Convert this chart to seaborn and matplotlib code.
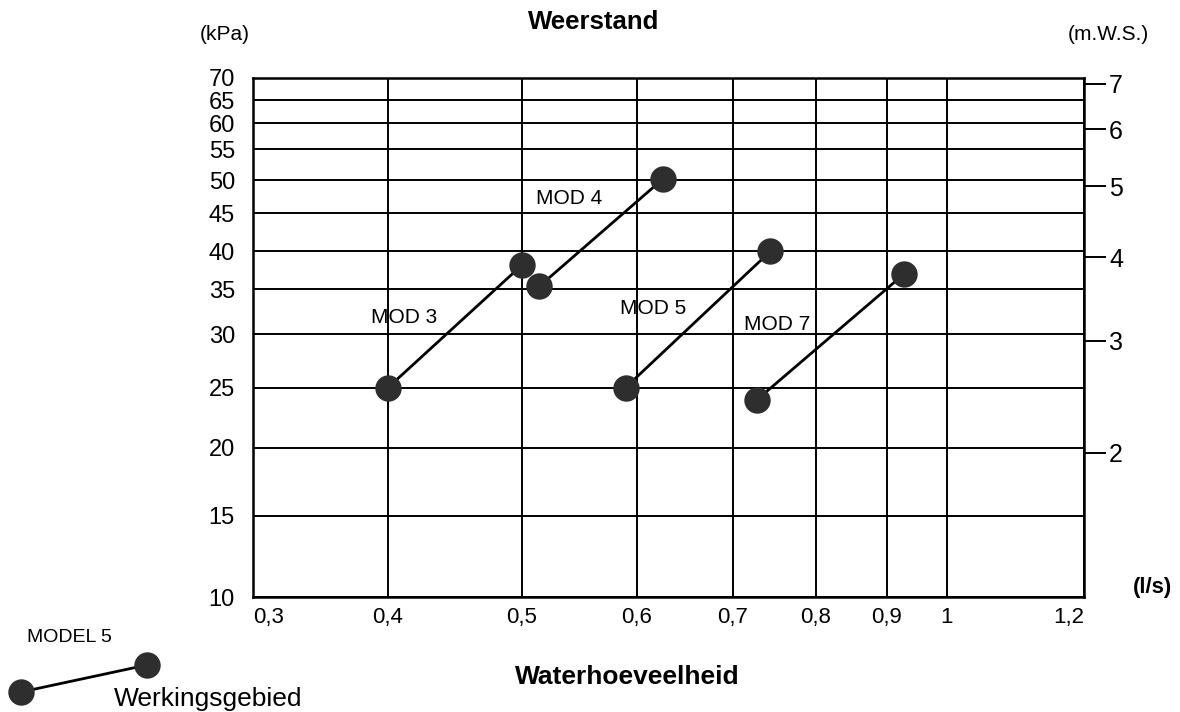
import matplotlib
matplotlib.use('Agg')
import matplotlib.pyplot as plt
from matplotlib.lines import Line2D
import numpy as np
import pandas as pd
import seaborn as sns

# werkingsgebied per model: begin- en eindpunt (l/s, kPa)
models = ['MOD 3', 'MOD 4', 'MOD 5', 'MOD 7']
flow_low = [0.40, 0.515, 0.59, 0.729]
flow_high = [0.50, 0.627, 0.745, 0.928]
kpa_low = [25.0, 35.4, 25.0, 24.0]
kpa_high = [38.2, 50.2, 40.0, 37.0]

x_ticks = [0.3, 0.4, 0.5, 0.6, 0.7, 0.8, 0.9, 1.0, 1.2]
x_labels = ['0,3', '0,4', '0,5', '0,6', '0,7', '0,8', '0,9', '1', '1,2']
y_ticks = [10, 15, 20, 25, 30, 35, 40, 45, 50, 55, 60, 65, 70]
mws_ticks = [2, 3, 4, 5, 6, 7]
KPA_PER_MWS = 9.81

# the printed nomogram is not evenly log spaced, so follow its grid spacing
x_grid_pos = [0, 135, 269, 384, 480, 563, 634, 694, 831]
y_grid_pos = [0, 81, 149, 209, 262, 307, 345, 383, 416, 447, 473, 496, 518]

# where the model names sit (data coords)
label_flow = [0.412, 0.541, 0.617, 0.753]
label_kpa = [31.9, 47.3, 32.9, 31.1]

df = pd.DataFrame({
    'model': models * 2,
    'flow': flow_low + flow_high,
    'kpa': kpa_low + kpa_high,
})

sns.set_theme(style='white')
plt.rcParams['font.family'] = ['Liberation Sans', 'DejaVu Sans']

def fwd(vals, pos):
    return lambda v: np.interp(v, vals, pos)

xs = (fwd(x_ticks, x_grid_pos), fwd(x_grid_pos, x_ticks))
ys = (fwd(y_ticks, y_grid_pos), fwd(y_grid_pos, y_ticks))

fig = plt.figure(figsize=(11.8, 7.12), dpi=100)
W, H = 1180, 712
ax = fig.add_axes([253 / W, 1 - 597 / H, (1084 - 253) / W, (597 - 78) / H])

ax.set_xscale('function', functions=xs)
ax.set_yscale('function', functions=ys)

dot = '#2e2e2e'
sns.lineplot(data=df, x='flow', y='kpa', units='model', estimator=None, sort=False,
             color='black', lw=2.0, marker='o', markersize=19,
             markerfacecolor=dot, markeredgecolor=dot, markeredgewidth=0,
             ax=ax, zorder=5, legend=False)

ax.set_xlim(x_ticks[0], x_ticks[-1])
ax.set_ylim(y_ticks[0], y_ticks[-1])
ax.set_xticks(x_ticks)
ax.set_xticklabels(x_labels)
ax.set_yticks(y_ticks)
ax.set_yticklabels([str(v) for v in y_ticks])
ax.minorticks_off()
ax.grid(True, color='black', lw=1.4)
ax.set_axisbelow(True)
ax.tick_params(axis='x', length=0, pad=7, labelsize=16, colors='black')
ax.tick_params(axis='y', length=0, pad=13, labelsize=17, colors='black')
lbls = ax.get_xticklabels()
lbls[0].set_ha('left')
lbls[-1].set_ha('right')
for s in ax.spines.values():
    s.set_color('black')
    s.set_linewidth(1.8)
ax.set_xlabel('')
ax.set_ylabel('')

for name, fx, fy in zip(models, label_flow, label_kpa):
    ax.text(fx, fy, name, ha='center', va='center', fontsize=15, color='black')

# right axis in metres water column
ax2 = ax.twinx()
ax2.set_yscale('function', functions=ys)
ax2.set_ylim(y_ticks[0], y_ticks[-1])
ax2.set_yticks([m * KPA_PER_MWS for m in mws_ticks])
ax2.set_yticklabels([str(m) for m in mws_ticks])
ax2.minorticks_off()
ax2.tick_params(axis='y', direction='out', length=16, width=1.4, pad=2,
                labelsize=18, colors='black')
for s in ax2.spines.values():
    s.set_visible(False)

def ftxt(x, y, s, **kw):
    fig.text(x / W, 1 - y / H, s, ha='center', va='center', color='black', **kw)

ftxt(594, 22, 'Weerstand', fontsize=18.5, fontweight='bold')
ftxt(225, 34, '(kPa)', fontsize=15)
ftxt(1108, 34, '(m.W.S.)', fontsize=15)
ftxt(1152, 588, '(l/s)', fontsize=16, fontweight='bold')
ftxt(627, 677, 'Waterhoeveelheid', fontsize=19, fontweight='bold')
ftxt(69, 637, 'MODEL 5', fontsize=14)
ftxt(208, 699, 'Werkingsgebied', fontsize=19)

# legend key
fig.add_artist(Line2D([21 / W, 147 / W], [1 - 692 / H, 1 - 665 / H],
                      transform=fig.transFigure, color='black', lw=2.0,
                      marker='o', markersize=19, markerfacecolor=dot,
                      markeredgecolor=dot, markeredgewidth=0))

fig.savefig('out.png', dpi=100, facecolor='white')
